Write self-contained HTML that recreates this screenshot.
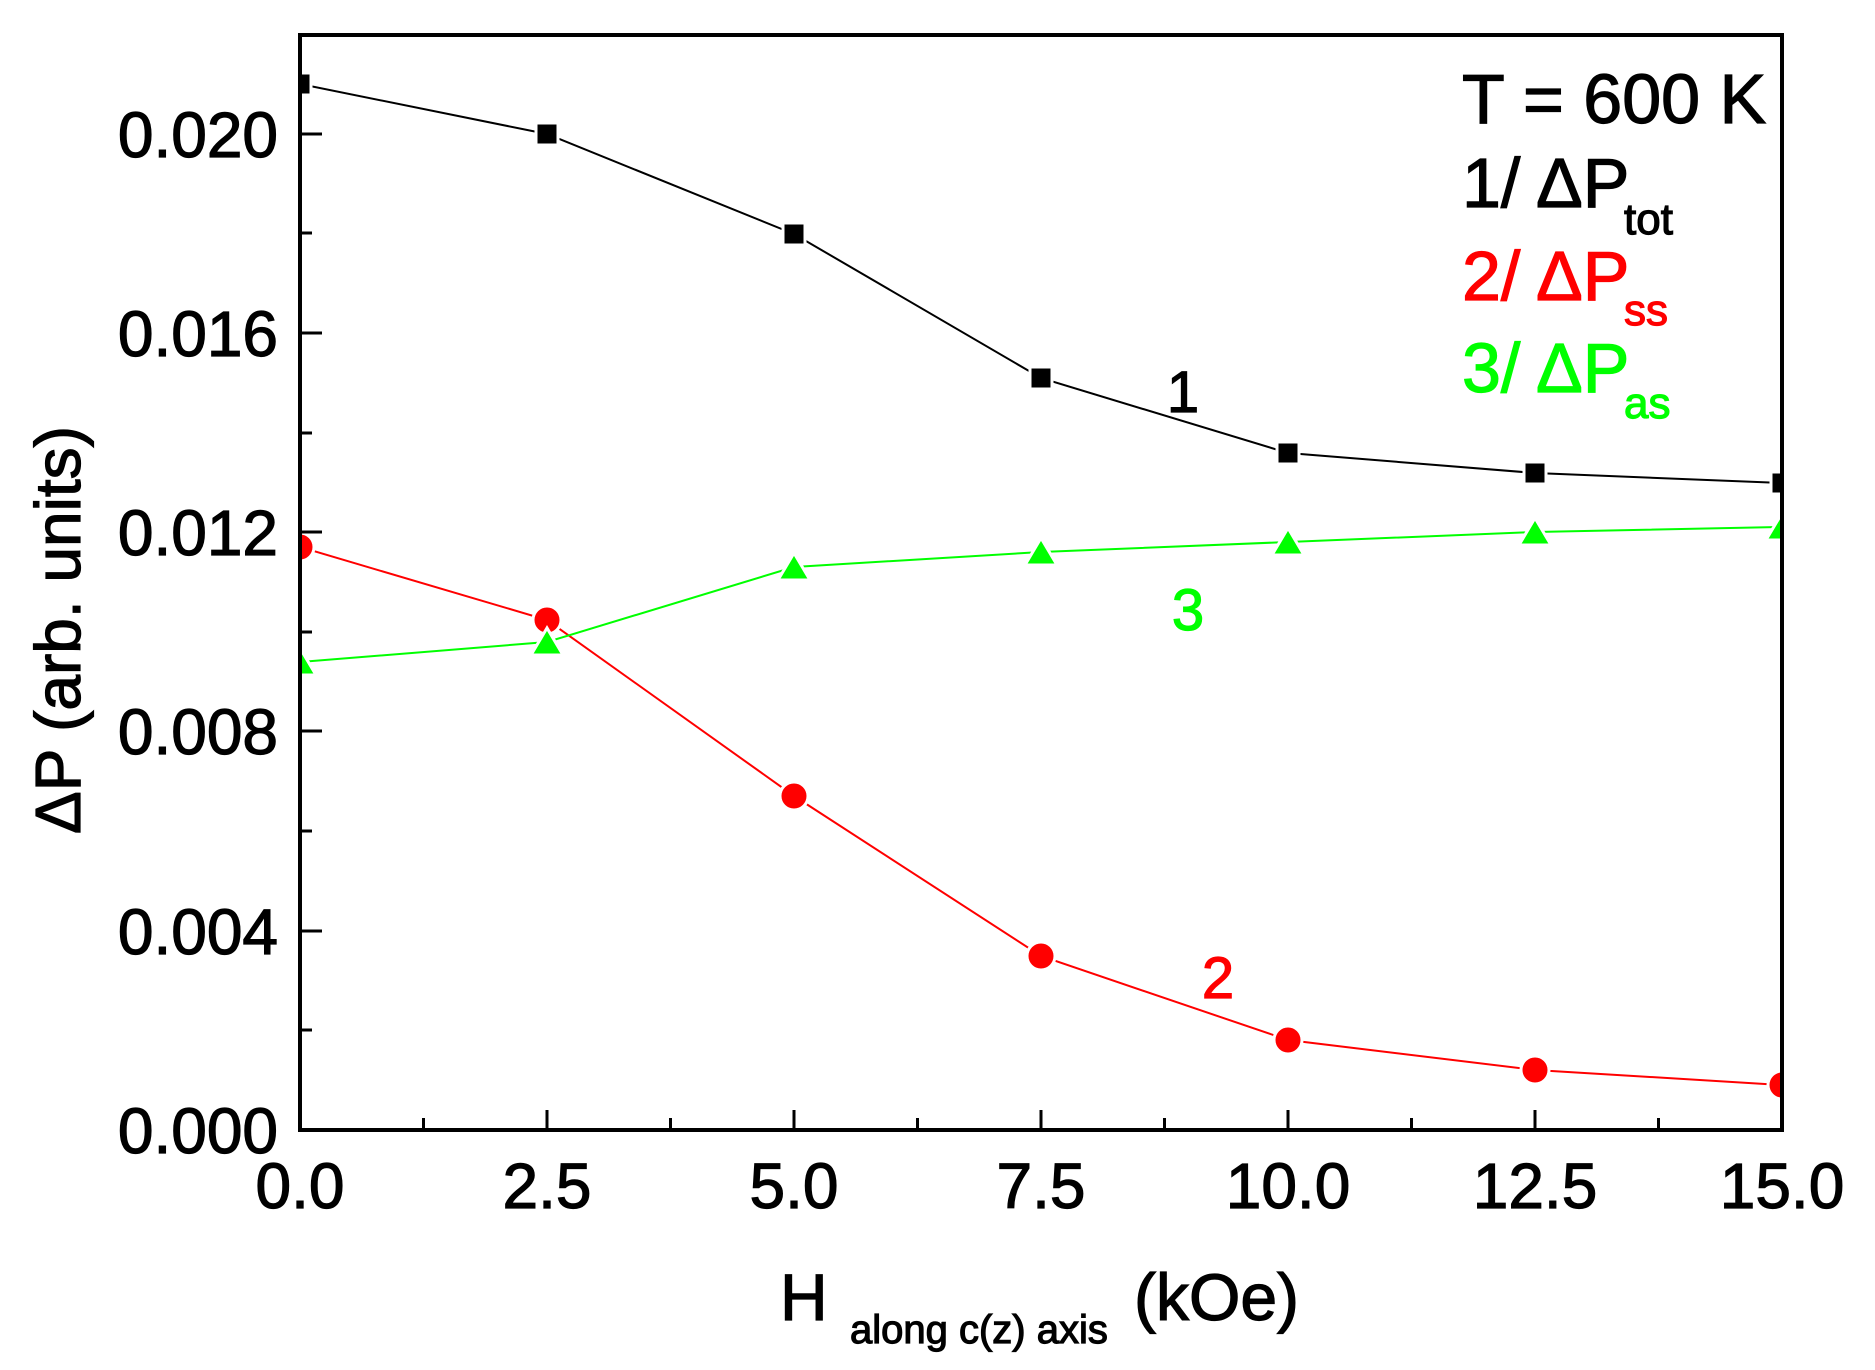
<!DOCTYPE html>
<html><head><meta charset="utf-8"><style>
html,body{margin:0;padding:0;background:#fff;}
svg{display:block;font-family:"Liberation Sans",Arial,sans-serif;}
text{stroke-width:1.2px;}
</style></head><body>
<svg width="1875" height="1370" viewBox="0 0 1875 1370" xmlns="http://www.w3.org/2000/svg">
<defs><clipPath id="c"><rect x="300" y="35" width="1482" height="1095"/></clipPath></defs>
<rect width="1875" height="1370" fill="#fff"/>
<g clip-path="url(#c)">
<polyline fill="none" stroke="#000" stroke-width="2" points="300,84 547,134 794,234 1041,378 1288,453 1535,473 1782,483"/>
<polyline fill="none" stroke="#f00" stroke-width="2" points="300,547 547,620 794,796 1041,956 1288,1040 1535,1070 1782,1085"/>
<polyline fill="none" stroke="#0f0" stroke-width="2" points="300,662 547,642 794,567 1041,552 1288,542 1535,532 1782,527"/>
<g fill="#000" stroke="#fff" stroke-width="3">
<rect x="289" y="73" width="22" height="22"/><rect x="536" y="123" width="22" height="22"/><rect x="783" y="223" width="22" height="22"/><rect x="1030" y="367" width="22" height="22"/><rect x="1277" y="442" width="22" height="22"/><rect x="1524" y="462" width="22" height="22"/><rect x="1771" y="472" width="22" height="22"/>
</g>
<g fill="#f00" stroke="#fff" stroke-width="3">
<circle cx="300" cy="547" r="14"/><circle cx="547" cy="620" r="14"/><circle cx="794" cy="796" r="14"/><circle cx="1041" cy="956" r="14"/><circle cx="1288" cy="1040" r="14"/><circle cx="1535" cy="1070" r="14"/><circle cx="1782" cy="1085" r="14"/>
</g>
<g fill="#0f0" stroke="#fff" stroke-width="3">
<polygon points="300,648 284,675 316,675"/><polygon points="547,628 531,655 563,655"/><polygon points="794,553 778,580 810,580"/><polygon points="1041,538 1025,565 1057,565"/><polygon points="1288,528 1272,555 1304,555"/><polygon points="1535,518 1519,545 1551,545"/><polygon points="1782,513 1766,540 1798,540"/>
</g>
</g>
<rect x="300" y="35" width="1482" height="1095" fill="none" stroke="#000" stroke-width="4"/>
<g stroke="#000" stroke-width="3">
<path d="M547,1130v-20M794,1130v-20M1041,1130v-20M1288,1130v-20M1535,1130v-20"/>
<path d="M423.5,1130v-12M670.5,1130v-12M917.5,1130v-12M1164.5,1130v-12M1411.5,1130v-12M1658.5,1130v-12"/>
<path d="M300,134h22M300,333h22M300,532h22M300,731h22M300,931h22"/>
<path d="M300,233h12M300,433h12M300,632h12M300,831h12M300,1030h12"/>
</g>
<g font-size="64" text-anchor="end" fill="#000" stroke="#000">
<text x="278" y="157">0.020</text><text x="278" y="356">0.016</text><text x="278" y="555">0.012</text><text x="278" y="754">0.008</text><text x="278" y="954">0.004</text><text x="278" y="1153">0.000</text>
</g>
<g font-size="64" text-anchor="middle" fill="#000" stroke="#000">
<text x="300" y="1208">0.0</text><text x="547" y="1208">2.5</text><text x="794" y="1208">5.0</text><text x="1041" y="1208">7.5</text><text x="1288" y="1208">10.0</text><text x="1535" y="1208">12.5</text><text x="1782" y="1208">15.0</text>
</g>
<g stroke="#000">
<text x="780" y="1320" font-size="66">H</text>
<text x="850" y="1343" font-size="40">along c(z) axis</text>
<text x="1134" y="1320" font-size="66">(kOe)</text>
<text transform="translate(80,630) rotate(-90)" font-size="64" text-anchor="middle">ΔP (arb. units)</text>
<text x="1462" y="123" font-size="70">T = 600 K</text>
<text x="1462" y="207" font-size="70">1/ ΔP</text><text x="1624" y="234" font-size="44">tot</text>
<text x="1183" y="412" font-size="58" text-anchor="middle">1</text>
</g>
<g fill="#f00" stroke="#f00"><text x="1462" y="300" font-size="70">2/ ΔP</text><text x="1624" y="325" font-size="44">ss</text>
<text x="1218" y="998" font-size="58" text-anchor="middle">2</text></g>
<g fill="#0f0" stroke="#0f0"><text x="1462" y="392" font-size="70">3/ ΔP</text><text x="1624" y="418" font-size="44">as</text>
<text x="1188" y="630" font-size="58" text-anchor="middle">3</text></g>
</svg>
</body></html>
